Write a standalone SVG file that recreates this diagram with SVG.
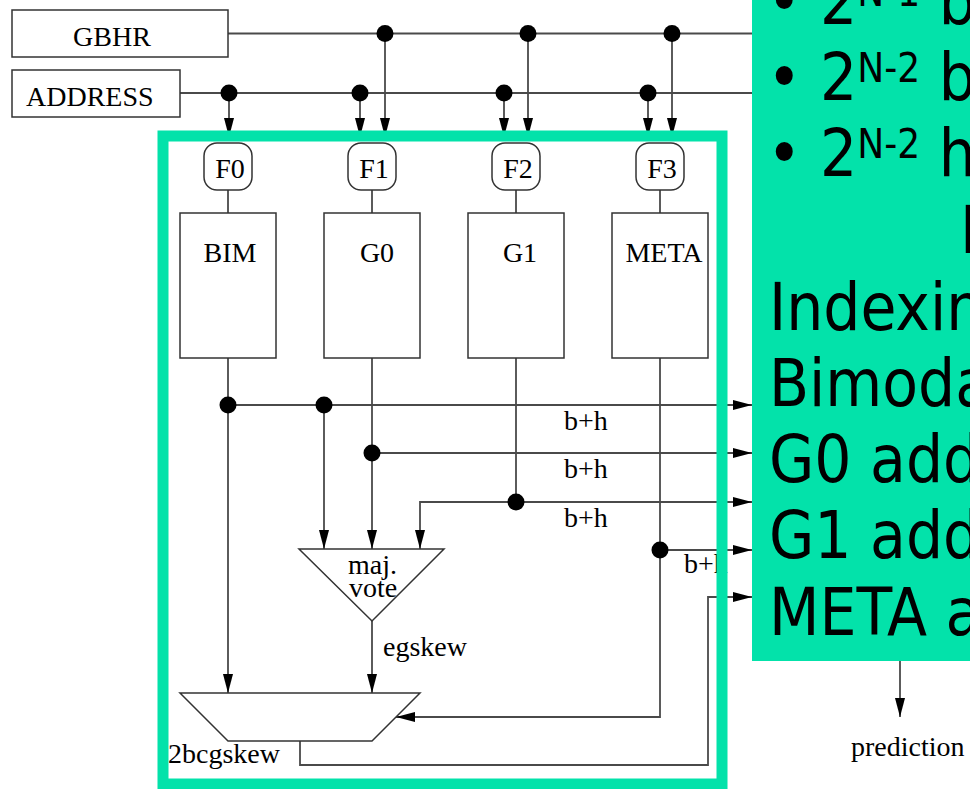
<svg xmlns="http://www.w3.org/2000/svg" width="970" height="789" viewBox="0 0 970 789">
<style>
.box{fill:#fff;stroke:#333;stroke-width:1.5}
.ser{font-family:"Liberation Serif","Times New Roman",serif;font-size:28px;fill:#000}
.mid{text-anchor:middle}
.wire{fill:none;stroke:#4a4a4a;stroke-width:1.8}
.dot{fill:#000}
.big{font-family:"DejaVu Sans Condensed","DejaVu Sans",sans-serif;font-stretch:condensed;font-size:65px;fill:#000}
.sup{font-size:40px}
</style>
<defs>
<marker id="ah" viewBox="0 0 19 10" refX="19" refY="5" markerWidth="19" markerHeight="10" markerUnits="userSpaceOnUse" orient="auto">
<path d="M0,0 L19,5 L0,10 z" fill="#000"/>
</marker>
</defs>
<rect width="970" height="789" fill="#fff"/>

<g id="connectors">
<path class="wire" d="M228,33.5 H752"/>
<path class="wire" d="M180,93 H752"/>
<path class="wire" marker-end="url(#ah)" d="M229,93 V137"/>
<path class="wire" marker-end="url(#ah)" d="M360,93 V137"/>
<path class="wire" marker-end="url(#ah)" d="M385,33.5 V137"/>
<path class="wire" marker-end="url(#ah)" d="M504,93 V137"/>
<path class="wire" marker-end="url(#ah)" d="M528,33.5 V137"/>
<path class="wire" marker-end="url(#ah)" d="M648,93 V137"/>
<path class="wire" marker-end="url(#ah)" d="M672,33.5 V137"/>
<path class="wire" d="M228,190 V213 M372,190 V213 M516,190 V213 M660,190 V213"/>
<path class="wire" marker-end="url(#ah)" d="M228,358 V693"/>
<path class="wire" marker-end="url(#ah)" d="M228,405 H752"/>
<path class="wire" marker-end="url(#ah)" d="M324,405 V549"/>
<path class="wire" marker-end="url(#ah)" d="M372,358 V549"/>
<path class="wire" marker-end="url(#ah)" d="M372,453 H752"/>
<path class="wire" d="M516,358 V502"/>
<path class="wire" marker-end="url(#ah)" d="M516,502 H752"/>
<path class="wire" marker-end="url(#ah)" d="M516,502 H420 V549"/>
<path class="wire" marker-end="url(#ah)" d="M660,358 V717 H396"/>
<path class="wire" marker-end="url(#ah)" d="M660,550 H752"/>
<path class="wire" marker-end="url(#ah)" d="M372,621 V693"/>
<path class="wire" marker-end="url(#ah)" d="M300,741 V765 H708 V597 H752"/>
<path class="wire" marker-end="url(#ah)" d="M900,661 V717"/>
<circle class="dot" cx="385" cy="33.5" r="8.5"/>
<circle class="dot" cx="528" cy="33.5" r="8.5"/>
<circle class="dot" cx="672" cy="33.5" r="8.5"/>
<circle class="dot" cx="229" cy="93" r="8.5"/>
<circle class="dot" cx="360" cy="93" r="8.5"/>
<circle class="dot" cx="504" cy="93" r="8.5"/>
<circle class="dot" cx="648" cy="93" r="8.5"/>
<circle class="dot" cx="228" cy="405" r="8.5"/>
<circle class="dot" cx="324" cy="405" r="8.5"/>
<circle class="dot" cx="372" cy="453" r="8.5"/>
<circle class="dot" cx="516" cy="502" r="8.5"/>
<circle class="dot" cx="660" cy="550" r="8.5"/>
</g>

<g id="gbhr"><rect class="box" x="12" y="10" width="216" height="47"/><text class="ser mid" x="112" y="46">GBHR</text></g>
<g id="address"><rect class="box" x="12" y="70" width="168" height="47"/><text class="ser" x="26" y="106">ADDRESS</text></g>

<g id="f0"><rect class="box" x="204" y="143" width="48" height="47" rx="13"/><text class="ser mid" x="230" y="178">F0</text></g>
<g id="f1"><rect class="box" x="348" y="143" width="48" height="47" rx="13"/><text class="ser mid" x="374" y="178">F1</text></g>
<g id="f2"><rect class="box" x="492" y="143" width="48" height="47" rx="13"/><text class="ser mid" x="518" y="178">F2</text></g>
<g id="f3"><rect class="box" x="636" y="143" width="48" height="47" rx="13"/><text class="ser mid" x="662" y="178">F3</text></g>

<g id="bim"><rect class="box" x="180" y="213" width="96" height="145"/><text class="ser mid" x="230" y="262">BIM</text></g>
<g id="g0"><rect class="box" x="324" y="213" width="96" height="145"/><text class="ser mid" x="377" y="262">G0</text></g>
<g id="g1"><rect class="box" x="468" y="213" width="96" height="145"/><text class="ser mid" x="520" y="262">G1</text></g>
<g id="meta"><rect class="box" x="612" y="213" width="96" height="145"/><text class="ser mid" x="664" y="262">META</text></g>

<g id="labels">
<text class="ser" x="564" y="430">b+h</text>
<text class="ser" x="564" y="478">b+h</text>
<text class="ser" x="564" y="527">b+h</text>
<text class="ser" x="684" y="573">b+h</text>
<text class="ser" x="383" y="656">egskew</text>
<text class="ser" x="168" y="763">2bcgskew</text>
<text class="ser" x="851" y="756">prediction</text>
</g>

<g id="majvote"><path class="box" d="M299,549 H444 L372,621 Z"/><text class="ser" x="348" y="574">maj.</text><text class="ser" x="349" y="597">vote</text></g>
<g id="mux"><path class="box" d="M180,693 H420 L372,741 H228 Z"/></g>

<g id="frame"><rect x="163" y="136" width="559" height="648" fill="none" stroke="#03e2aa" stroke-width="11"/></g>

<g id="panel">
<rect x="752" y="0" width="218" height="661" fill="#03e2aa"/>
<text class="big" x="767" y="24">• 2<tspan class="sup" dy="-18">N-1</tspan><tspan dy="18"> b</tspan></text>
<text class="big" x="767" y="100">• 2<tspan class="sup" dy="-18">N-2</tspan><tspan dy="18"> b</tspan></text>
<text class="big" x="767" y="176">• 2<tspan class="sup" dy="-18">N-2</tspan><tspan dy="18"> h</tspan></text>
<text class="big" x="960" y="253">I</text>
<text class="big" x="769" y="330">Indexing</text>
<text class="big" x="769" y="406">Bimodal</text>
<text class="big" x="769" y="482">G0 add</text>
<text class="big" x="769" y="558">G1 add</text>
<text class="big" x="769" y="635">META a</text>
</g>
</svg>
